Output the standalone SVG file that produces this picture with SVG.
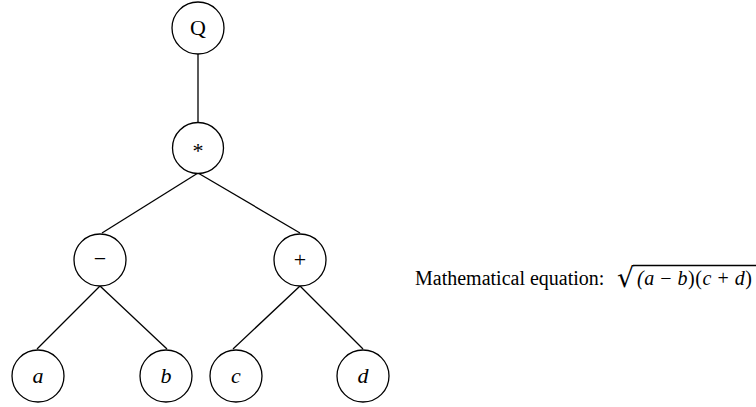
<svg xmlns="http://www.w3.org/2000/svg" width="756" height="407" viewBox="0 0 756 407">
<style>
.n{fill:#fff;stroke:#000;stroke-width:1.3}
.e{stroke:#000;stroke-width:1.3;fill:none}
.t{font-family:"Liberation Serif","Times New Roman",serif;font-size:22px;fill:#000;text-anchor:middle}
.i{font-style:italic}
.eq{font-family:"Liberation Serif","Times New Roman",serif;font-size:20px;fill:#000}
</style>
<rect width="756" height="407" fill="#fff"/>
<g id="edges">
<line class="e" x1="198" y1="54" x2="198" y2="122"/>
<line class="e" x1="198" y1="173" x2="102" y2="233"/>
<line class="e" x1="198" y1="173" x2="300" y2="233"/>
<line class="e" x1="100" y1="286" x2="37" y2="349"/>
<line class="e" x1="100" y1="286" x2="167" y2="349"/>
<line class="e" x1="300" y1="286" x2="233" y2="349"/>
<line class="e" x1="300" y1="286" x2="363" y2="349"/>
</g>
<g id="nQ"><circle class="n" cx="198" cy="28" r="26"/><text class="t" x="198" y="35">Q</text></g>
<g id="nMul"><circle class="n" cx="198" cy="148" r="25.5"/><text class="t" x="198" y="158">*</text></g>
<g id="nMinus"><circle class="n" cx="100" cy="260" r="26"/><text class="t" x="100" y="266">−</text></g>
<g id="nPlus"><circle class="n" cx="300" cy="260" r="26"/><text class="t" x="300" y="267">+</text></g>
<g id="nA"><circle class="n" cx="38" cy="376" r="26"/><text class="t i" x="38" y="383">a</text></g>
<g id="nB"><circle class="n" cx="166" cy="376" r="26"/><text class="t i" x="166" y="383">b</text></g>
<g id="nC"><circle class="n" cx="236" cy="376" r="26"/><text class="t i" x="236" y="383">c</text></g>
<g id="nD"><circle class="n" cx="363" cy="376" r="26"/><text class="t i" x="363" y="383">d</text></g>
<g id="equation">
<text class="eq" x="415" y="285">Mathematical equation:</text>
<text x="617" y="287" font-family="'DejaVu Serif',serif" font-size="27" fill="#000">√</text>
<text class="eq" x="637" y="285" font-size="21" textLength="115" lengthAdjust="spacing"><tspan font-style="italic">(a</tspan> − <tspan font-style="italic">b</tspan>)(<tspan font-style="italic">c</tspan> + <tspan font-style="italic">d</tspan>)</text>
<line class="e" x1="633" y1="265.5" x2="756" y2="265.5"/>
</g>
</svg>
